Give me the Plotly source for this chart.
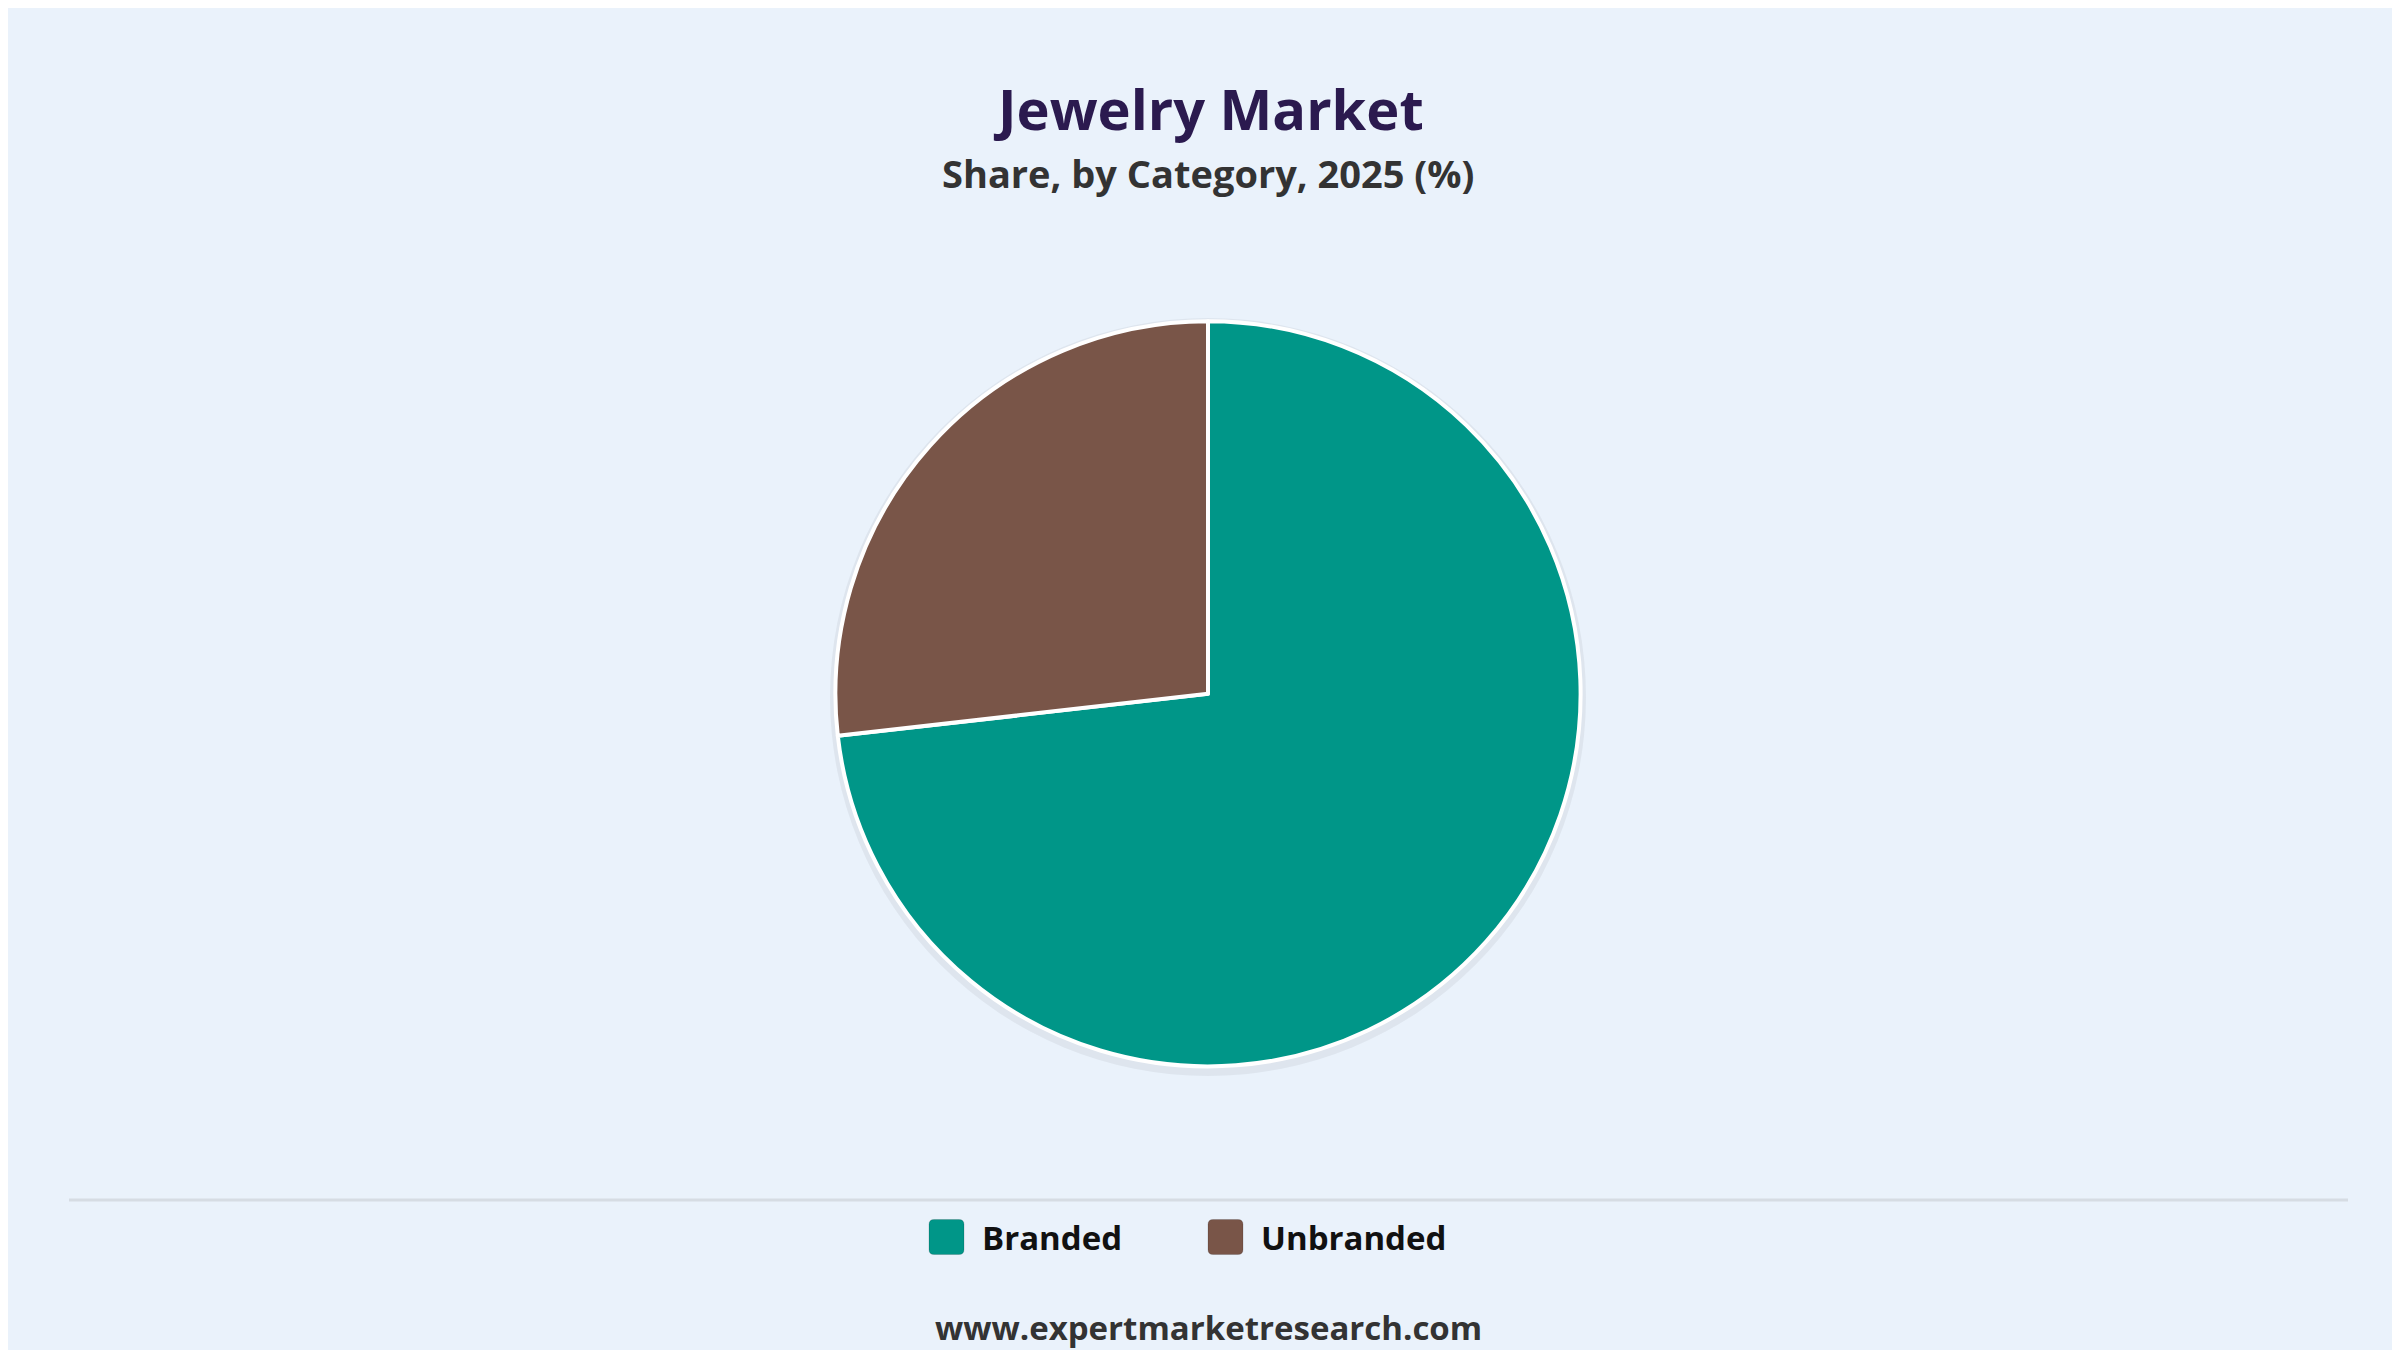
import plotly.graph_objects as go

categories = ["Branded", "Unbranded"]
shares = [73.2, 26.8]
colors = ["#009688", "#795548"]

W, H = 2400, 1350

fig = go.Figure()
fig.add_trace(go.Pie(
    labels=categories,
    values=shares,
    marker=dict(colors=colors, line=dict(color="white", width=4)),
    sort=False,
    direction="clockwise",
    rotation=0,
    textinfo="none",
    hoverinfo="label+percent",
    showlegend=False,
    domain=dict(x=[0, 1], y=[0.216, 0.768]),
))

# manual legend (rounded squares + labels)
legend_x = [921, 1200]  # left edge of each swatch, px
sq = 35
ly = 1229
shapes = []
annotations = []
for cat, col, x0 in zip(categories, colors, legend_x):
    x1 = x0 + sq
    y0, y1 = ly - sq / 2, ly + sq / 2
    r = 5
    path = (f"M{x0 + r},{y0} L{x1 - r},{y0} Q{x1},{y0} {x1},{y0 + r} L{x1},{y1 - r} Q{x1},{y1} {x1 - r},{y1} "
            f"L{x0 + r},{y1} Q{x0},{y1} {x0},{y1 - r} L{x0},{y0 + r} Q{x0},{y0} {x0 + r},{y0} Z")
    # convert to paper coords via pixel-based axes
    shapes.append(dict(type="path", xref="x", yref="y", path=path, fillcolor=col,
                       line=dict(color="rgba(0,0,0,0.15)", width=1)))
    annotations.append(dict(text=f"<b>{cat}</b>", x=x1 + 16, y=ly, xref="x", yref="y",
                            xanchor="left", yanchor="middle", showarrow=False,
                            font=dict(size=33, color="#111", family="Open Sans")))

# soft shadow behind the pie
R = 373
shapes.insert(0, dict(type="circle", xref="x", yref="y", layer="below",
                      x0=1200 - R - 5, x1=1200 + R + 5, y0=686 - R - 3, y1=686 + R + 9,
                      fillcolor="rgba(0,0,0,0.05)", line=dict(width=0)))

shapes.append(dict(type="line", xref="x", yref="y", x0=61, x1=2340, y0=1192, y1=1192,
                   line=dict(color="#D6DCE3", width=3)))

annotations += [
    dict(text="<b>Jewelry Market</b>", x=1200, y=100, xref="x", yref="y", yanchor="middle",
         showarrow=False, font=dict(size=56, color="#2B1A4F", family="Open Sans")),
    dict(text="<b>Share, by Category, 2025 (%)</b>", x=1200, y=165, xref="x", yref="y", yanchor="middle",
         showarrow=False, font=dict(size=38, color="#333", family="Open Sans")),
    dict(text="<b>www.expertmarketresearch.com</b>", x=1200, y=1319, xref="x", yref="y", yanchor="middle",
         showarrow=False, font=dict(size=33, color="#333", family="Open Sans")),
]

fig.update_layout(
    width=W, height=H,
    paper_bgcolor="#EAF2FB", plot_bgcolor="rgba(0,0,0,0)",
    margin=dict(l=0, r=0, t=0, b=0),
    font=dict(family="Open Sans", color="#222"),
    xaxis=dict(range=[0, W], visible=False, fixedrange=True),
    yaxis=dict(range=[H, 0], visible=False, fixedrange=True),
    annotations=annotations,
    shapes=shapes,
)

fig.write_html("out.html")
